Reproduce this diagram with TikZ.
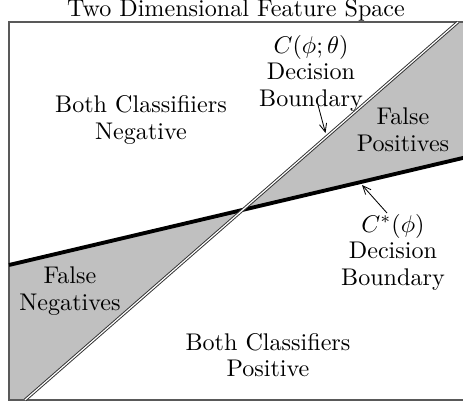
\documentclass[tikz,border=0pt]{standalone}
\usetikzlibrary{arrows.meta}
\definecolor{fillgray}{RGB}{192,192,192}
\begin{document}
\begin{tikzpicture}[x=0.4147pt,y=-0.4147pt,
  lbl/.style={align=center,inner sep=0pt,font=\fontsize{10}{11}\selectfont},
  region/.style={fill=fillgray,draw=none},
  frameline/.style={draw=black!65,line width=0.6pt},
  cline/.style={draw=black!80,double=white,line width=0.4pt,double distance=0.5pt},
  cstarline/.style={draw=black,line width=1.6pt},
  pointer/.style={draw=black,line width=0.35pt,-{Straight Barb[length=3.5pt,width=3pt]}}]
\useasboundingbox (0,0) rectangle (463,406);
\clip (0,0) rectangle (463,406);
% key points
\coordinate (X) at (243,210);
\coordinate (D1) at (25,400);
\coordinate (D2) at (458,22);
\coordinate (T1) at (9,265);
\coordinate (T2) at (470,156.3);
\coordinate (BL) at (9,400);
\coordinate (TR) at (470,22);
% shaded regions
\fill[region] (X) -- (D2) -- (TR) -- (T2) -- cycle;
\fill[region] (X) -- (T1) -- (BL) -- (D1) -- cycle;
% frame
\draw[frameline] (9,22) rectangle (470,400);
% boundaries
\draw[cstarline] (T1) -- (T2);
\draw[cline] (D1) -- (D2);
% labels
\node[lbl,anchor=base] (title) at (236,16.5) {Two Dimensional Feature Space};
\node[lbl] (neg) at (141,120) {Both Classifiiers\\Negative};
\node[lbl] (cth) at (311,73) {$C(\phi;\theta)$\\Decision\\Boundary};
\node[lbl] (fp) at (403,130) {False\\Positives};
\node[lbl] (cst) at (393,252) {$C^*(\phi)$\\Decision\\Boundary};
\node[lbl] (fn) at (70,291) {False\\Negatives};
\node[lbl] (pos) at (268,355) {Both Classifiers\\Positive};
% pointers
\coordinate (a1s) at (318,105);
\coordinate (a1e) at (325.5,133);
\coordinate (a2s) at (387,213);
\coordinate (a2e) at (362,185);
\draw[pointer] (a1s) -- (a1e);
\draw[pointer] (a2s) -- (a2e);
\end{tikzpicture}
\end{document}
